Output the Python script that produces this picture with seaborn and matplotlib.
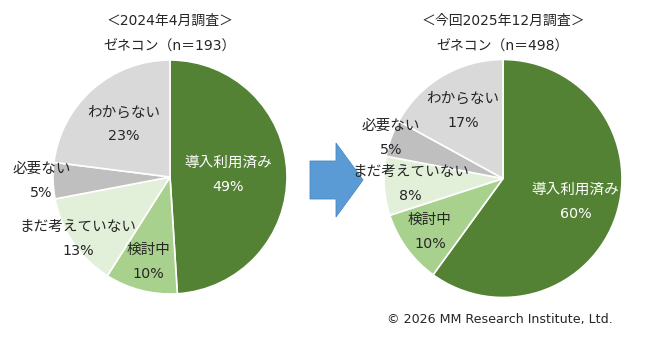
import numpy as np
import matplotlib
matplotlib.use("Agg")
import matplotlib.pyplot as plt
import matplotlib.patches as mpatches
import seaborn as sns

# ---- données ----
categories = ["導入利用済み", "検討中", "まだ考えていない", "必要ない", "わからない"]
vals_2024 = [49, 10, 13, 5, 23]
vals_2025 = [60, 10, 8, 5, 17]
title_2024 = ["＜2024年4月調査＞", "ゼネコン（n＝193）"]
title_2025 = ["＜今回2025年12月調査＞", "ゼネコン（n＝498）"]
copyright_txt = "© 2026 MM Research Institute, Ltd."

couleurs = ["#548235", "#A9D18E", "#E2F0D9", "#BFBFBF", "#D9D9D9"]

sns.set_theme(style="white")
plt.rcParams['font.family'] = ['Noto Sans CJK JP', 'DejaVu Sans']
mix = ['DejaVu Sans', 'Noto Sans CJK JP']   # chiffres façon Verdana, kana en Noto

W, H = 665, 357
fig = plt.figure(figsize=(W / 100, H / 100), dpi=100)
ax = fig.add_axes([0, 0, 1, 1])


def camembert(vals, centre, rayon, fracs, titres):
    wedges, _ = ax.pie(vals, colors=couleurs, startangle=90, counterclock=False,
                       center=centre, radius=rayon,
                       wedgeprops=dict(edgecolor="white", linewidth=1.2))
    for i, w in enumerate(wedges):
        th = np.deg2rad((w.theta1 + w.theta2) / 2)
        x = centre[0] + fracs[i] * rayon * np.cos(th)
        y = centre[1] + fracs[i] * rayon * np.sin(th)
        col = "white" if i == 0 else "#262626"
        ax.text(x, y + 12, categories[i], ha="center", va="center", fontsize=10.5, color=col)
        ax.text(x, y - 12, f"{vals[i]}%", ha="center", va="center", fontsize=10.3,
                family=['DejaVu Sans'], color=col)
    ax.text(centre[0], H - 21, titres[0], ha="center", va="center", fontsize=10,
            family=mix, color="#262626")
    ax.text(centre[0], H - 46, titres[1], ha="center", va="center", fontsize=10,
            family=mix, color="#262626")


camembert(vals_2024, (170, 180), 117, [0.5, 0.75, 0.95, 1.1, 0.6], title_2024)
camembert(vals_2025, (503, 178.5), 119, [0.64, 0.76, 0.78, 1.0, 0.66], title_2025)

# pie() fixe ses propres limites : on les remet après
ax.set_xlim(0, W)
ax.set_ylim(0, H)
ax.set_aspect("equal")
ax.axis("off")

# flèche bleue
ax.add_patch(mpatches.FancyArrow(310, 177, 53, 0, width=38, head_width=74, head_length=27,
                                 length_includes_head=True, color="#5B9BD5", ec="#4A89C4", lw=0.6))

ax.text(500, H - 320, copyright_txt, ha="center", va="center", fontsize=9.1,
        family=['DejaVu Sans'], color="#262626")

fig.savefig("out.png", dpi=100)
